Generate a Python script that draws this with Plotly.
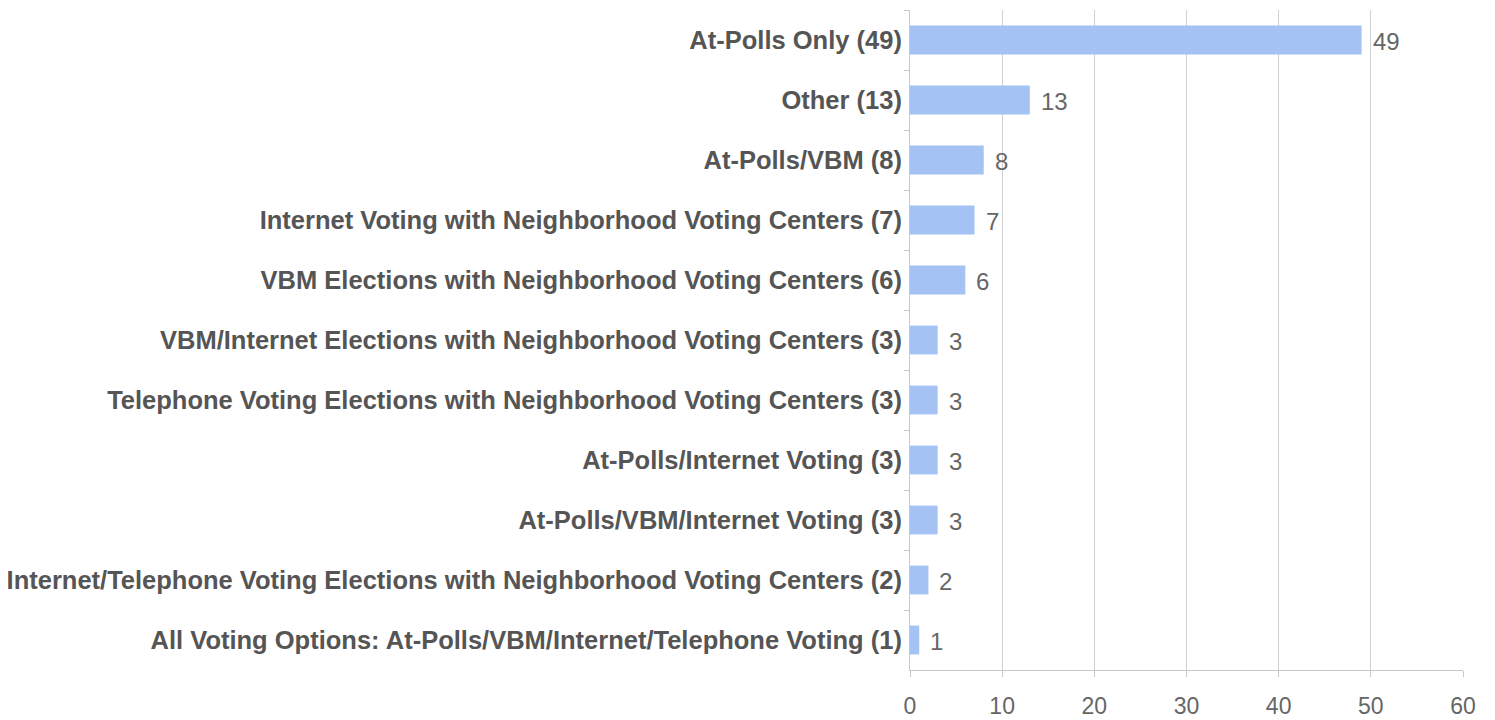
import plotly.graph_objects as go

categories = [
    "At-Polls Only (49)",
    "Other (13)",
    "At-Polls/VBM (8)",
    "Internet Voting with Neighborhood Voting Centers (7)",
    "VBM Elections with Neighborhood Voting Centers (6)",
    "VBM/Internet Elections with Neighborhood Voting Centers (3)",
    "Telephone Voting Elections with Neighborhood Voting Centers (3)",
    "At-Polls/Internet Voting (3)",
    "At-Polls/VBM/Internet Voting (3)",
    "Internet/Telephone Voting Elections with Neighborhood Voting Centers (2)",
    "All Voting Options: At-Polls/VBM/Internet/Telephone Voting (1)",
]
values = [49, 13, 8, 7, 6, 3, 3, 3, 3, 2, 1]
x_ticks = [0, 10, 20, 30, 40, 50, 60]

fig = go.Figure(go.Bar(
    x=values,
    y=categories,
    orientation="h",
    marker=dict(color="#a4c2f4", line=dict(width=0)),
    hoverinfo="x+y",
))

for v, c in zip(values, categories):
    fig.add_annotation(
        x=v, y=c, text=str(v), showarrow=False,
        xanchor="left", xshift=9, yshift=-1,
        font=dict(family="Liberation Sans, Arial", size=24, color="#666666"),
    )

# page body has an 8px default margin, so the figure is sized to fit within the window
fig.update_layout(
    width=1487, height=712,
    margin=dict(l=902, r=32, t=2, b=50),
    plot_bgcolor="white", paper_bgcolor="white",
    bargap=0.52,
    showlegend=False,
    font=dict(family="Liberation Sans, Arial"),
)
fig.update_xaxes(
    range=[0, 60], tickvals=x_ticks, ticktext=[str(t) for t in x_ticks],
    showgrid=True, gridcolor="#d0d0d0", gridwidth=1,
    showline=True, linecolor="#c8c8c8", linewidth=1,
    ticks="outside", ticklen=6, tickcolor="#c8c8c8",
    tickfont=dict(family="Liberation Sans, Arial", size=23, color="#666666"),
    ticklabelstandoff=9, zeroline=False, automargin=False,
)
fig.update_yaxes(
    categoryorder="array", categoryarray=categories, autorange="reversed",
    showline=True, linecolor="#c8c8c8", linewidth=1,
    ticks="outside", ticklen=5, tickcolor="#c8c8c8", tickson="boundaries",
    tickfont=dict(family="Liberation Sans, Arial", size=25.5, color="#555555", weight="bold"),
    ticklabelstandoff=2, automargin=False,
)

fig.write_html("out.html")
